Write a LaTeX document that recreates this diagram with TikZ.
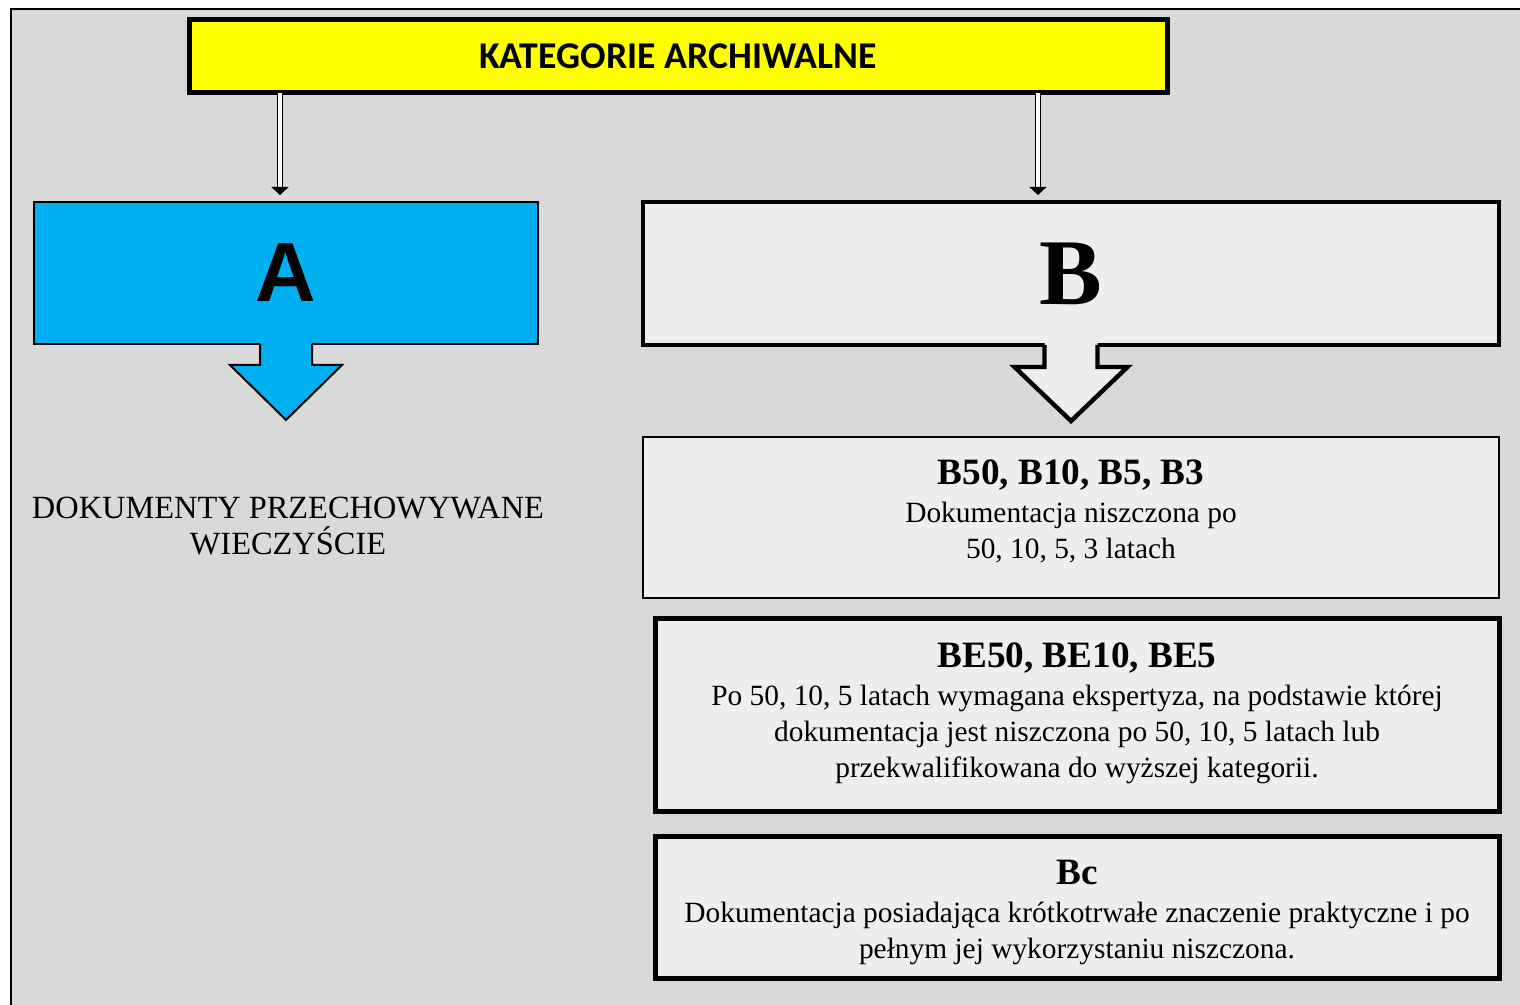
\documentclass[tikz,border=0pt]{standalone}
\usepackage{fontspec}
\setmainfont{Liberation Serif}
\newfontfamily\calibrifont{Carlito}
\newfontfamily\arialfont{Liberation Sans}
\usetikzlibrary{arrows.meta,calc}

\definecolor{panelgray}{HTML}{D9D9D9}
\definecolor{catyellow}{HTML}{FFFF00}
\definecolor{catcyan}{HTML}{00B0F0}
\definecolor{catlight}{HTML}{EEEEEE}

\tikzset{
  catbox/.style={draw=black, inner sep=0pt, outer sep=0pt, align=center},
  thinframe/.style={catbox, line width=1pt},
  thickframe/.style={catbox, line width=2.5pt},
  hollowarrow/.style={draw=black, double=white, line width=0.7pt, double distance=2pt,
    -{Triangle[length=4pt,width=8.5pt]}, shorten >=3.5pt},
  bodytext/.style={font=\fontsize{14.7}{18}\selectfont, align=center},
}
\newcommand{\cattitle}[1]{{\fontsize{18.6}{19}\selectfont\bfseries #1}}

\begin{document}
\begin{tikzpicture}[x=0.5pt,y=0.5pt,yscale=-1,xscale=1]
\useasboundingbox (0,0) rectangle (1520,1005);
\fill[white] (0,0) rectangle (1520,1005);

% panel
\fill[panelgray] (11,9) rectangle (1530,1010);
\draw[line width=1pt] (11,1010) -- (11,9) -- (1530,9);

% headline
\node[thickframe, fill=catyellow, minimum width=489pt, minimum height=36.5pt,
  font=\calibrifont\fontsize{18.9}{20}\selectfont\bfseries] (head) at (678,56.5) {KATEGORIE ARCHIWALNE};

% category A
\node[thinframe, fill=catcyan, minimum width=252pt, minimum height=71pt,
  font=\arialfont\fontsize{42}{42}\selectfont\bfseries] (catA) at (286,273) {A};
\fill[catcyan] ($(catA.south)+(-26,-3)$) -- ++(0,24) -- ++(-30,0) -- ++(56,55) -- ++(56,-55) -- ++(-30,0) -- ++(0,-24) -- cycle;
\draw[line width=1pt, line join=miter] ($(catA.south)+(-26,0)$) -- ++(0,21) -- ++(-30,0) -- ++(56,55) -- ++(56,-55) -- ++(-30,0) -- ++(0,-21);

\node[font=\fontsize{16.2}{18}\selectfont, align=center] (keepA) at (288,526) {DOKUMENTY PRZECHOWYWANE\\WIECZYŚCIE};

% category B
\node[catbox, line width=2.2pt, fill=catlight, minimum width=428pt, minimum height=71.5pt,
  font=\fontsize{47}{48}\selectfont\bfseries] (catB) at (1071,273.5) {B};
\fill[catlight] ($(catB.south)+(-26.5,-4)$) -- ++(0,26) -- ++(-30,0) -- ++(56.5,54) -- ++(56.5,-54) -- ++(-30,0) -- ++(0,-26) -- cycle;
\draw[line width=2.2pt, line join=miter] ($(catB.south)+(-26.5,0)$) -- ++(0,22) -- ++(-30,0) -- ++(56.5,54) -- ++(56.5,-54) -- ++(-30,0) -- ++(0,-22);

% connectors
\draw[hollowarrow] (head.south -| 280,0) -- (catA.north -| 280,0);
\draw[hollowarrow] (head.south -| 1038,0) -- (catB.north -| 1038,0);

% subcategories of B
\node[thinframe, fill=catlight, minimum width=428pt, minimum height=80.5pt] (bten) at (1071,517.5) {};
\node[bodytext] (bten-text) at ([yshift=-3pt]bten.center)
  {\cattitle{B50, B10, B5, B3}\\[1pt]Dokumentacja niszczona po\\50, 10, 5, 3 latach};
\node[thickframe, fill=catlight, minimum width=422pt, minimum height=96.5pt] (bexp) at (1077,714.5) {};
\node[bodytext] (bexp-text) at ([yshift=-0.5pt]bexp.center)
  {\cattitle{BE50, BE10, BE5}\\[1pt]Po 50, 10, 5 latach wymagana ekspertyza, na podstawie której\\dokumentacja jest niszczona po 50, 10, 5 latach lub\\przekwalifikowana do wyższej kategorii.};
\node[thickframe, fill=catlight, minimum width=422pt, minimum height=71pt] (bc) at (1077,907) {};
\node[bodytext] (bc-text) at ([yshift=2.5pt]bc.center)
  {\cattitle{Bc}\\[1pt]Dokumentacja posiadająca krótkotrwałe znaczenie praktyczne i po\\pełnym jej wykorzystaniu niszczona.};
\end{tikzpicture}
\end{document}
